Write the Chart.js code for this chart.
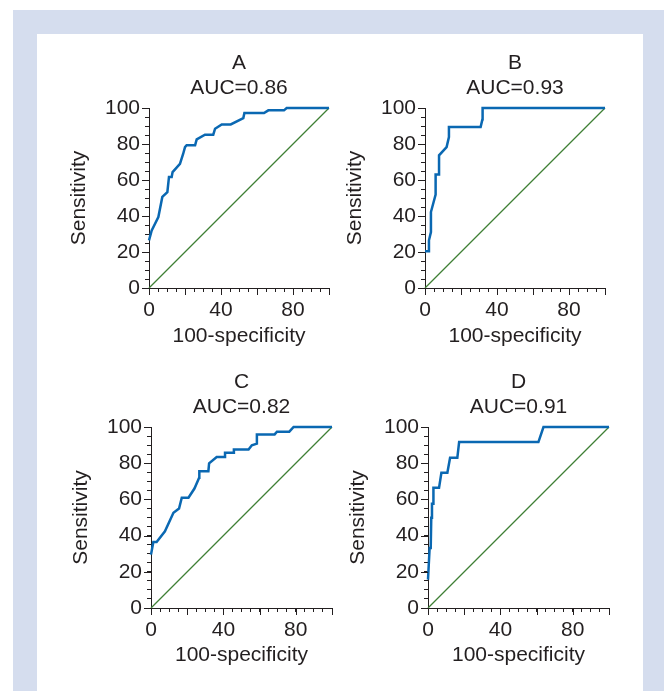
<!DOCTYPE html>
<html>
<head>
<meta charset="utf-8">
<script src="https://cdn.jsdelivr.net/npm/chart.js@4"></script>
<style>
  body { margin: 0; background: #fff; }
  .frame { position: absolute; left: 13px; top: 10px; width: 651px; height: 681px; background: #d5ddee; }
  .inner { position: absolute; left: 37px; top: 34px; width: 606px; height: 657px; background: #fff; }
  .panel { position: absolute; width: 300px; height: 320px; }
</style>
</head>
<body>
<div class="frame"></div>
<div class="inner"></div>
<div class="panel" style="left:59px;top:38px"><canvas id="chartA"></canvas></div>
<div class="panel" style="left:335px;top:38px"><canvas id="chartB"></canvas></div>
<div class="panel" style="left:61px;top:357px"><canvas id="chartC"></canvas></div>
<div class="panel" style="left:338px;top:357px"><canvas id="chartD"></canvas></div>
<script>
// ROC curves: x = 100-specificity, y = sensitivity
const fprA  = [0, 1.5, 5.2, 7.4, 10.2, 11.1, 12.6, 13.1, 17.2, 19, 20, 20.9, 25.6, 26.5, 31.1, 35.7, 36.7, 40.4, 45.4, 52.4, 53, 63.9, 66.3, 75, 76.5, 100];
const sensA = [26.5, 32, 39.4, 50.6, 53.3, 61.7, 61.7, 64.4, 69, 74.6, 78.3, 79.3, 79.3, 82.6, 85.2, 85.2, 88.5, 90.9, 90.9, 94.4, 97.2, 97.2, 98.7, 98.7, 100, 100];

const fprB  = [0, 1.9, 2.2, 3.3, 3.3, 5.9, 5.9, 7.8, 7.8, 12, 13.3, 13.3, 30.9, 31.9, 32, 100];
const sensB = [20.4, 20.4, 26.5, 31.1, 42.2, 51.9, 63.1, 63.1, 73.7, 78.3, 83.9, 89.4, 89.4, 93.7, 100, 100];

const fprC  = [0, 1.3, 3.1, 7.7, 12.4, 15.5, 17, 20.7, 24, 26.6, 26.7, 31.7, 32.1, 36.3, 40.9, 40.9, 45.6, 45.8, 53.9, 55.7, 58.5, 58.5, 68.3, 69.6, 76.4, 78.8, 100];
const sensC = [29.5, 36.5, 36.5, 42.4, 52.6, 55, 60.9, 60.9, 66, 72, 75.6, 75.6, 79.9, 83.4, 83.4, 85.8, 85.8, 87.6, 87.6, 89.9, 90.8, 95.9, 95.9, 97.4, 97.4, 100, 100];

const fprD  = [0, 0.9, 1.5, 1.8, 2.2, 3, 3, 6.1, 7.4, 10.7, 12.2, 16.2, 17.2, 61, 63.8, 100];
const sensD = [15.7, 33.2, 33.2, 49.8, 57.6, 57.6, 66.4, 66.4, 74.7, 74.7, 83, 83, 91.7, 91.7, 100, 100];

const refX = [0, 100];
const refY = [0, 100];

const panelLetters = ['A', 'B', 'C', 'D'];
const aucLabels = ['AUC=0.86', 'AUC=0.93', 'AUC=0.82', 'AUC=0.91'];
const yTickLabels = [0, 20, 40, 60, 80, 100];
const xTickLabels = [0, 40, 80];

const ink = '#231f20';
const fontFamily = '"Liberation Sans", Arial, Helvetica, sans-serif';
const fontSize = 21;

// longer tick marks every 20 units (minor ones come from the scale itself)
const majorTicks = {
    id: 'majorTicks',
    afterDraw(chart) {
        const { ctx, scales: { x, y } } = chart;
        ctx.save();
        ctx.strokeStyle = ink;
        ctx.lineWidth = 1;
        ctx.beginPath();
        for (let v = 0; v <= 100; v += 20) {
            const px = Math.round(x.getPixelForValue(v)) + 0.5;
            ctx.moveTo(px, x.top);
            ctx.lineTo(px, x.top + 7);
            const py = Math.round(y.getPixelForValue(v)) + 0.5;
            ctx.moveTo(y.right, py);
            ctx.lineTo(y.right - 7, py);
        }
        ctx.stroke();
        ctx.restore();
    }
};

function toPoints(xs, ys) {
    return xs.map((x, i) => ({ x: x, y: ys[i] }));
}

function makeRoc(id, letter, auc, xs, ys, size) {
    const W = 300, H = 320, yAxisW = 90, topH = 70;
    const ctx = document.getElementById(id).getContext('2d');
    return new Chart(ctx, {
        type: 'scatter',
        data: {
            datasets: [{
                data: toPoints(xs, ys),
                showLine: true,
                borderColor: '#0a68b2',
                borderWidth: 2.5,
                pointRadius: 0,
                tension: 0,
                clip: false,
                order: 0
            }, {
                data: toPoints(refX, refY),
                showLine: true,
                borderColor: '#3f7f35',
                borderWidth: 1.2,
                pointRadius: 0,
                clip: false,
                order: 1
            }]
        },
        options: {
            responsive: false,
            animation: false,
            layout: { padding: { left: 0, top: 0, right: W - yAxisW - size, bottom: 0 } },
            plugins: {
                legend: { display: false },
                tooltip: { enabled: false },
                title: {
                    display: true,
                    fullSize: false,
                    text: [letter, auc],
                    color: ink,
                    font: { family: fontFamily, size: fontSize, weight: 'normal', lineHeight: 1.167 },
                    padding: { top: 13.25, bottom: 7.75 }
                }
            },
            scales: {
                x: {
                    type: 'linear',
                    min: 0, max: 100,
                    afterFit: s => { s.height = H - topH - size; },
                    border: { display: true, color: ink, width: 1 },
                    grid: { drawOnChartArea: false, drawTicks: true, tickLength: 4, tickColor: ink },
                    ticks: {
                        stepSize: 5,
                        autoSkip: false,
                        maxRotation: 0,
                        padding: 5.8,
                        color: ink,
                        font: { family: fontFamily, size: fontSize },
                        callback: v => xTickLabels.includes(v) ? String(v) : ''
                    },
                    title: {
                        display: true,
                        text: '100-specificity',
                        color: ink,
                        font: { family: fontFamily, size: fontSize },
                        padding: { top: 0, bottom: 9.4 }
                    }
                },
                y: {
                    type: 'linear',
                    min: 0, max: 100,
                    afterFit: s => { s.width = yAxisW; },
                    border: { display: true, color: ink, width: 1 },
                    grid: { drawOnChartArea: false, drawTicks: true, tickLength: 4, tickColor: ink },
                    ticks: {
                        stepSize: 5,
                        autoSkip: false,
                        padding: 5,
                        color: ink,
                        font: { family: fontFamily, size: fontSize },
                        callback: v => yTickLabels.includes(v) ? String(v) : ''
                    },
                    title: {
                        display: true,
                        text: 'Sensitivity',
                        color: ink,
                        font: { family: fontFamily, size: fontSize },
                        padding: { top: 7.9, bottom: 0 }
                    }
                }
            }
        },
        plugins: [majorTicks]
    });
}

document.querySelectorAll('canvas').forEach(c => { c.width = 300; c.height = 320; });

makeRoc('chartA', panelLetters[0], aucLabels[0], fprA, sensA, 180);
makeRoc('chartB', panelLetters[1], aucLabels[1], fprB, sensB, 180);
makeRoc('chartC', panelLetters[2], aucLabels[2], fprC, sensC, 181);
makeRoc('chartD', panelLetters[3], aucLabels[3], fprD, sensD, 181);
</script>
</body>
</html>
